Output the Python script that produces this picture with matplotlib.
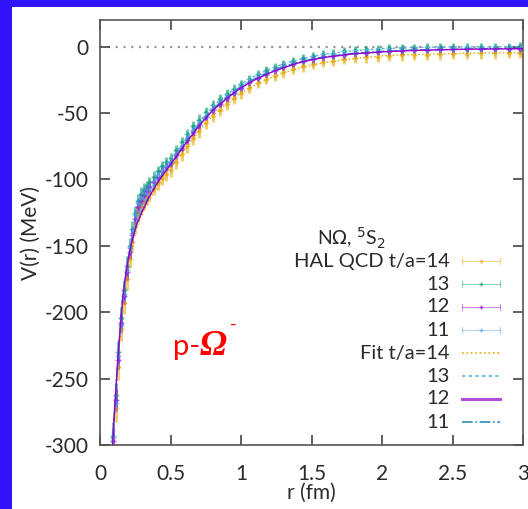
import matplotlib
matplotlib.use('Agg')
import matplotlib.pyplot as plt
from matplotlib.patches import Rectangle

plt.rcParams['font.family'] = ['Lato', 'DejaVu Sans']
plt.rcParams['axes.unicode_minus'] = False

# lattice data points
r_data = [0.09, 0.11, 0.13, 0.15, 0.17, 0.19, 0.21, 0.23, 0.25, 0.27, 0.29, 0.31, 0.33, 0.35,
          0.38, 0.41, 0.44, 0.47, 0.50, 0.54, 0.58, 0.62, 0.66, 0.70, 0.75, 0.80, 0.85, 0.90,
          0.95, 1.00, 1.06, 1.12, 1.18, 1.24, 1.30, 1.37, 1.44, 1.51, 1.58, 1.65, 1.73, 1.81,
          1.89, 1.97, 2.05, 2.14, 2.23, 2.32, 2.41, 2.50, 2.60, 2.70, 2.80, 2.90, 2.98]

v14 = [-300, -272, -241, -213, -193, -175, -160, -147, -135, -126,
       -121, -117, -114, -111, -107, -103, -99, -96, -93, -87,
       -81, -75, -69, -63.5, -57.5, -52.5, -47.5, -43, -39, -35,
       -31, -27.5, -24.5, -22, -19.5, -17, -15, -13, -11.5, -10.5,
       -9.5, -8.5, -8, -7.5, -7, -6.5, -6.2, -6, -5.8, -5.5,
       -5.3, -5.2, -5, -4.8, -4.8]
v13 = [-293, -262, -230, -204, -183, -165, -150, -137, -125, -116,
       -111, -108, -105, -102, -98, -94, -90, -87, -84, -78,
       -72, -66, -60, -55, -49, -44, -39.5, -35.5, -32, -28.5,
       -24.5, -21, -18, -15.5, -13, -10.5, -8.5, -7, -5.5, -4.5,
       -3.5, -2.8, -2.2, -1.8, -1.4, -1, -0.8, -0.6, -0.5, -0.3,
       -0.3, -0.2, -0.1, 0, 0.2]
v12 = [-297, -266, -236, -208, -188, -170, -155, -142, -130, -121,
       -116, -112, -109, -106, -102, -98, -94, -91, -88, -82,
       -76, -70, -64, -59, -53, -48, -43, -39, -35, -31,
       -27, -23.5, -20.5, -18, -15.5, -13, -11, -9.5, -8, -7,
       -6, -5, -4.5, -4, -3.5, -3, -2.7, -2.5, -2.2, -2,
       -1.9, -1.8, -1.7, -1.6, -1.5]
v11 = [-295, -268, -233, -210, -186, -168, -152, -140, -127, -118,
       -114, -110, -108, -105, -101, -97, -93, -90, -87, -81,
       -75, -69, -63, -58, -52, -47, -42, -38, -34, -30.5,
       -26.5, -23, -20, -17.5, -15, -12.5, -10.5, -9, -7.5, -6.5,
       -5.5, -4.8, -4.2, -3.6, -3.2, -2.8, -2.5, -2.3, -2, -1.9,
       -1.8, -1.7, -1.5, -1.4, -1.3]

e14 = [12, 11, 10, 9, 8, 8, 7, 7, 6, 6, 6, 6, 5, 5, 5, 5, 5, 5, 5, 5,
       5, 5, 5, 5, 4.5, 4.5, 4.5, 4.5, 4.5, 4.5, 4, 4, 4, 4, 4, 4, 4, 4, 4, 4,
       4, 4, 4, 4, 4, 4, 4, 4, 4, 4, 4, 4, 4, 4, 4]
e13 = [10, 9, 8, 8, 7, 7, 6, 6, 5, 5, 5, 5, 4, 4, 4, 4, 4, 4, 4, 4,
       4, 4, 4, 4, 3.5, 3.5, 3.5, 3.5, 3.5, 3.5, 3, 3, 3, 3, 3, 3, 3, 3, 3, 3,
       3, 3, 3, 3, 3, 3, 3, 3, 3, 3, 3, 3, 3, 3, 3]
e12 = [9, 8, 7, 7, 6, 6, 5, 5, 5, 4, 4, 4, 4, 4, 3, 3, 3, 3, 3, 3,
       3, 3, 3, 3, 2.5, 2.5, 2.5, 2.5, 2.5, 2.5, 2.5, 2.5, 2.5, 2.5, 2.5, 2.5, 2.5, 2.5, 2.5, 2.5,
       2.5, 2.5, 2.5, 2.5, 2.5, 2.5, 2.5, 2.5, 2.5, 2.5, 2.5, 2.5, 2.5, 2.5, 2.5]
e11 = [8, 7, 7, 6, 6, 5, 5, 5, 5, 4, 4, 4, 4, 4, 3, 3, 3, 3, 3, 3,
       3, 3, 2.5, 2.5, 2.5, 2.5, 2.5, 2.5, 2.5, 2.5, 2, 2, 2, 2, 2, 2, 2, 2, 2, 2,
       2, 2, 2, 2, 2, 2, 2, 2, 2, 2, 2, 2, 2, 2, 2]

# fit curves
r_fit = [0.07, 0.08, 0.09, 0.10, 0.12, 0.14, 0.16, 0.18, 0.20, 0.23, 0.26, 0.30, 0.35,
         0.40, 0.45, 0.50, 0.60, 0.70, 0.80, 0.90, 1.00, 1.10, 1.20, 1.30, 1.40, 1.50,
         1.60, 1.80, 2.00, 2.20, 2.40, 2.60, 2.80, 3.00]
f14 = [-352, -325, -302, -282, -248, -219, -193, -176, -162, -147, -136, -126, -115,
       -106, -98, -91, -78, -64, -52, -43, -35, -29, -24, -20, -16.5, -14,
       -12, -9, -7, -6, -5.5, -5, -4.8, -4.6]
f13 = [-348, -320, -298, -278, -244, -215, -189, -172, -158, -142, -131, -120, -109,
       -100, -92, -85, -71, -57, -45, -36, -28, -22, -17, -13, -10, -7.5,
       -5.5, -3, -1.5, -0.8, -0.4, -0.2, -0.1, 0]
f12 = [-350, -323, -300, -280, -246, -217, -191, -174, -160, -145, -134, -124, -113,
       -104, -96, -89, -74, -60, -48, -39, -31, -25, -20, -16, -12.5, -10,
       -8, -5.5, -4, -3, -2.5, -2, -1.8, -1.6]
f11 = [-349, -322, -299, -279, -245, -216, -190, -173, -159, -144, -133, -123, -112,
       -103, -95, -88, -73, -59, -47, -38, -30, -24, -19, -15, -12, -9.5,
       -7.5, -5, -3.6, -2.7, -2.2, -1.8, -1.5, -1.3]

c14, c13, c12, c11 = '#E6A800', '#009E73', '#9400D3', '#5A9BE6'

W, H = 528, 509
fig = plt.figure(figsize=(W / 100, H / 100), dpi=100)
fig.patch.set_facecolor('#3214FA')
fig.patches.append(Rectangle((12 / W, 0), 1, 1 - 7 / H, transform=fig.transFigure,
                             facecolor='white', edgecolor='none', zorder=-5))

ax = fig.add_axes([100 / W, 1 - 445 / H, 423 / W, 425 / H])

ax.plot([0, 3], [0, 0], color='#999999', ls=(0, (1, 2.5)), lw=1.6, zorder=1)

for v, e, c in [(v14, e14, c14), (v13, e13, c13), (v12, e12, c12), (v11, e11, c11)]:
    ax.errorbar(r_data, v, yerr=e, xerr=0.012, fmt='+', ms=4, color=c, ecolor=c,
                elinewidth=2.2, capsize=0, mew=1.0, alpha=0.55, zorder=2)

ax.plot(r_fit, f14, color=c14, ls=':', lw=1.0, zorder=3)
ax.plot(r_fit, f13, color='#56B4E9', ls=(0, (2, 2)), lw=1.0, zorder=3)
ax.plot(r_fit, f11, color='#2C8FB8', ls='-.', lw=1.0, zorder=3)
ax.plot(r_fit, f12, color=c12, ls='-', lw=1.0, zorder=4)

ax.set_xlim(0, 3)
ax.set_ylim(-300, 20)
ax.set_xticks([0, 0.5, 1, 1.5, 2, 2.5, 3])
ax.set_xticklabels(['0', '0.5', '1', '1.5', '2', '2.5', '3'])
ax.set_yticks([0, -50, -100, -150, -200, -250, -300])
ax.tick_params(direction='in', length=7, width=1.2, color='#444444', labelsize=15,
               labelcolor='#2a2a2a', top=True, right=True)
ax.tick_params(axis='x', pad=14)
ax.tick_params(axis='y', pad=8)
for s in ax.spines.values():
    s.set_color('#555555')
    s.set_linewidth(1.2)
ax.set_xlabel('r (fm)', fontsize=15, color='#2a2a2a', labelpad=-1)
ax.set_ylabel('V(r) (MeV)', fontsize=15, color='#2a2a2a', labelpad=3)

# key, drawn by hand so that the labels are right aligned
ax.text(0.595, (445 - 238) / 425, r'N$\Omega$, $^5$S$_2$', transform=ax.transAxes,
        ha='center', va='center', fontsize=14, color='#2a2a2a')
key_labels = ['HAL QCD t/a=14', '13', '12', '11', 'Fit t/a=14', '13', '12', '11']
key_rows = [261, 284, 307, 330, 353, 376, 399, 422]
x0, x1 = (462 - 100) / 423, (500 - 100) / 423
xm = (x0 + x1) / 2
for i, (lab, yp) in enumerate(zip(key_labels, key_rows)):
    yk = (445 - yp) / 425
    ax.text(0.826, yk, lab, transform=ax.transAxes, ha='right', va='center',
            fontsize=14.5, color='#2a2a2a')
    if i < 4:
        c = [c14, c13, c12, c11][i]
        ax.plot([x0, x1], [yk, yk], transform=ax.transAxes, color=c, lw=0.8, alpha=0.45)
        for xx in (x0, x1):
            ax.plot([xx, xx], [yk - 0.006, yk + 0.006], transform=ax.transAxes,
                    color=c, lw=0.8, alpha=0.45)
        ax.plot([xm], [yk], transform=ax.transAxes, marker='+', ms=3, color=c, alpha=0.7)
    else:
        st = [(':', c14, 1.2), ((0, (2, 2)), '#56B4E9', 1.2), ('-', '#B050D8', 2.2),
              ('-.', '#2C8FB8', 1.2)][i - 4]
        ax.plot([x0, x1], [yk, yk], transform=ax.transAxes, ls=st[0], color=st[1], lw=st[2])

# label of the channel
fig.text(173 / W, 1 - 355 / H, 'p-', fontsize=21, color='#FF0000', ha='left', va='baseline')
fig.text(200 / W, 1 - 355 / H, 'Ω', fontsize=26, color='#FF0000', ha='left', va='baseline',
         family='Liberation Serif', weight='bold', style='italic')
fig.text(230 / W, 1 - 330 / H, '-', fontsize=13, color='#FF0000', ha='left', va='baseline')

fig.savefig('out.png', dpi=100)
